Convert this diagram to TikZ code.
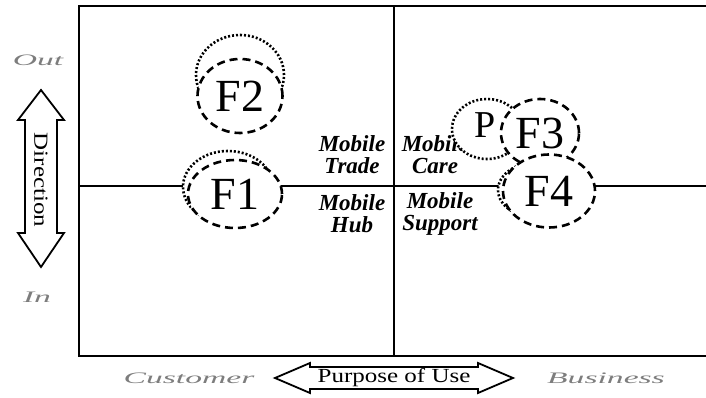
\documentclass[tikz,border=0pt]{standalone}
\usepackage{fontspec}
\setmainfont{Liberation Serif}
\usetikzlibrary{shapes.geometric}

\begin{document}
\begin{tikzpicture}[x=1pt,y=-1pt]
      % Define line widths
      \def\framewidth{1.8pt}
      \def\ringwidth{2.6pt}

      % Define colors
      \definecolor{axislabel}{RGB}{125,125,125}

      % Define styles
      \tikzset{
        dashring/.style={ellipse, draw, fill=white, line width=\ringwidth, dash pattern=on 8pt off 5pt, inner sep=0pt, font=\fontsize{46}{46}\selectfont},
        dotring/.style={ellipse, draw, fill=white, line width=\ringwidth, dash pattern=on 2pt off 2pt, inner sep=0pt, font=\fontsize{38}{38}\selectfont},
        quadtext/.style={align=center, font=\fontsize{23}{22}\selectfont\bfseries\itshape},
        endtext/.style={text=axislabel, xscale=2.1, font=\fontsize{16}{16}\selectfont\itshape},
        arrowtext/.style={xscale=1.25, font=\fontsize{20}{20}\selectfont}
      }

      % Page
      \useasboundingbox (0,0) rectangle (706,398);

      % Frame
      \coordinate (TL) at (79,6);
      \coordinate (TR) at (706,6);
      \coordinate (BL) at (79,356);
      \coordinate (BR) at (706,356);
      \draw[line width=\framewidth] (TR) -- (TL) -- (BL) -- (BR);

      % Axes through the middle
      \draw[line width=\framewidth] (79,186) -- (706,186);
      \draw[line width=\framewidth] (394,6) -- (394,356);

      % Quadrant labels
      \node[quadtext] (trade) at (352,155) {Mobile\\Trade};
      \node[quadtext] (care) at (435,155) {Mobile\\Care};
      \node[quadtext] (hub) at (352,214) {Mobile\\Hub};
      \node[quadtext] (support) at (440,214) {Mobile\\Support};

      % Earlier positions (dotted)
      \node[dotring, minimum width=88, minimum height=80] (P2) at (240,75) {};
      \node[font=\fontsize{38}{38}\selectfont] (P2text) at (240,72) {P};
      \node[dotring, minimum width=70, minimum height=60] (P3) at (487,129) {};
      \node[font=\fontsize{38}{38}\selectfont] (P3text) at (485,125) {P};
      \node[dotring, minimum width=90, minimum height=72] (P1) at (228,187) {};
      \node[dotring, minimum width=80, minimum height=56] (P4) at (538,190) {};

      % Present positions (dashed)
      \node[dashring, minimum width=78, minimum height=68] (F3) at (540,133) {F3};
      \node[dashring, minimum width=92, minimum height=73] (F4) at (549,191) {F4};
      \node[dashring, minimum width=85, minimum height=74] (F2) at (240,96) {F2};
      \node[dashring, minimum width=94, minimum height=68] (F1) at (235,194) {F1};

      % Direction arrow
      \draw[line width=\framewidth] (41,90) -- (64,120) -- (57,120) -- (57,233) -- (64,233)
        -- (41,267) -- (18,233) -- (25,233) -- (25,120) -- (18,120) -- cycle;
      \node[rotate=-90, arrowtext] (direction) at (41,180) {Direction};

      % Purpose arrow
      \draw[line width=\framewidth] (275,378) -- (310,363) -- (310,367) -- (478,367) -- (478,363)
        -- (513,378) -- (478,393) -- (478,389) -- (310,389) -- (310,393) -- cycle;
      \node[arrowtext] (purpose) at (394,378) {Purpose of Use};

      % Axis ends
      \node[endtext] (out) at (38,60) {Out};
      \node[endtext] (in) at (37,297) {In};
      \node[endtext] (customer) at (189,378) {Customer};
      \node[endtext] (business) at (606,378) {Business};

\end{tikzpicture}
\end{document}
